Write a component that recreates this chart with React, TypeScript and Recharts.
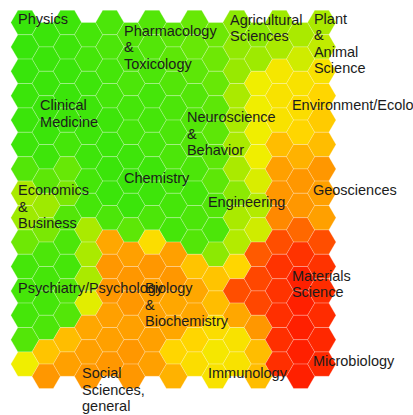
import { ScatterChart, Scatter, XAxis, YAxis } from 'recharts'

// 15 x 15 hexagonal map, one row per array entry, value 0 (green) .. 1 (red)
const cellValues: number[][] = [
  [0.04, 0.05, 0.06, 0.08, 0.10, 0.12, 0.12, 0.15, 0.18, 0.20, 0.25, 0.25, 0.28, 0.30, 0.30],
  [0.04, 0.05, 0.06, 0.08, 0.10, 0.10, 0.12, 0.15, 0.18, 0.20, 0.26, 0.28, 0.30, 0.38, 0.35],
  [0.04, 0.05, 0.05, 0.06, 0.08, 0.10, 0.10, 0.12, 0.15, 0.18, 0.27, 0.45, 0.48, 0.50, 0.50],
  [0.05, 0.05, 0.05, 0.06, 0.08, 0.08, 0.08, 0.10, 0.12, 0.15, 0.30, 0.45, 0.50, 0.52, 0.55],
  [0.05, 0.05, 0.06, 0.06, 0.06, 0.08, 0.08, 0.10, 0.12, 0.15, 0.30, 0.45, 0.50, 0.55, 0.58],
  [0.06, 0.06, 0.08, 0.06, 0.05, 0.06, 0.08, 0.10, 0.12, 0.15, 0.30, 0.45, 0.62, 0.65, 0.62],
  [0.12, 0.15, 0.18, 0.08, 0.05, 0.05, 0.06, 0.08, 0.10, 0.15, 0.30, 0.40, 0.70, 0.72, 0.72],
  [0.30, 0.28, 0.22, 0.08, 0.05, 0.05, 0.06, 0.08, 0.08, 0.12, 0.25, 0.32, 0.72, 0.72, 0.70],
  [0.28, 0.22, 0.12, 0.30, 0.10, 0.15, 0.10, 0.08, 0.10, 0.10, 0.30, 0.38, 0.75, 0.82, 0.70],
  [0.20, 0.10, 0.10, 0.30, 0.68, 0.70, 0.52, 0.70, 0.12, 0.25, 0.32, 0.85, 0.88, 0.95, 0.88],
  [0.08, 0.08, 0.08, 0.30, 0.72, 0.72, 0.72, 0.72, 0.60, 0.60, 0.55, 0.90, 0.95, 1.00, 0.95],
  [0.08, 0.08, 0.12, 0.42, 0.72, 0.72, 0.70, 0.68, 0.68, 0.62, 0.88, 0.90, 0.95, 1.00, 0.97],
  [0.08, 0.10, 0.12, 0.68, 0.70, 0.70, 0.70, 0.68, 0.68, 0.52, 0.68, 0.72, 0.96, 1.00, 0.97],
  [0.12, 0.60, 0.62, 0.70, 0.70, 0.72, 0.70, 0.55, 0.55, 0.48, 0.50, 0.62, 0.96, 1.00, 0.98],
  [0.45, 0.72, 0.70, 0.72, 0.72, 0.72, 0.70, 0.65, 0.52, 0.50, 0.50, 0.62, 0.96, 1.00, 0.98],
]

// field labels, anchored in grid units (column, row)
const labelTexts: string[][] = [
  ['Physics'],
  ['Pharmacology', '&', 'Toxicology'],
  ['Agricultural', 'Sciences'],
  ['Plant', '&', 'Animal', 'Science'],
  ['Clinical', 'Medicine'],
  ['Neuroscience', '&', 'Behavior'],
  ['Environment/Ecology'],
  ['Chemistry'],
  ['Economics', '&', 'Business'],
  ['Engineering'],
  ['Geosciences'],
  ['Psychiatry/Psychology'],
  ['Biology', '&', 'Biochemistry'],
  ['Materials', 'Science'],
  ['Microbiology'],
  ['Immunology'],
  ['Social', 'Sciences,', 'general'],
]
const labelCols = [-0.33, 4.67, 9.67, 13.63, 0.71, 7.64, 12.59, 4.67, -0.33, 8.63, 13.58, -0.33, 5.66, 12.59, 13.58, 8.63, 2.69]
const labelRows = [0.06, 0.55, 0.1, 0.06, 3.59, 4.08, 3.59, 6.58, 7.07, 7.56, 7.07, 11.09, 11.09, 10.59, 14.08, 14.57, 14.57]

const colorStops: [number, number, number, number][] = [
  [0.0, 42, 228, 12],
  [0.2, 110, 232, 5],
  [0.3, 170, 234, 0],
  [0.45, 240, 238, 0],
  [0.55, 255, 214, 0],
  [0.7, 255, 160, 0],
  [0.85, 255, 90, 0],
  [1.0, 255, 32, 0],
]

function valueColor(v: number) {
  for (let i = 1; i < colorStops.length; i++) {
    const a = colorStops[i - 1]
    const b = colorStops[i]
    if (v <= b[0]) {
      const t = (v - a[0]) / (b[0] - a[0])
      const c = [1, 2, 3].map(k => Math.round(a[k] + (b[k] - a[k]) * Math.max(0, t)))
      return `rgb(${c[0]},${c[1]},${c[2]})`
    }
  }
  const l = colorStops[colorStops.length - 1]
  return `rgb(${l[1]},${l[2]},${l[3]})`
}

const cells = cellValues.flatMap((row, r) =>
  row.map((v, c) => ({ x: c, y: r + (c % 2 ? 0.5 : 0), v }))
)

const labels = labelTexts.map((lines, i) => ({ x: labelCols[i], y: labelRows[i], lines }))

const HEX_R = 14.2
const HEX_H = 12.2

function HexCell(props: any) {
  const { cx, cy, payload } = props
  const pts = [
    [cx - HEX_R, cy], [cx - HEX_R / 2, cy - HEX_H], [cx + HEX_R / 2, cy - HEX_H],
    [cx + HEX_R, cy], [cx + HEX_R / 2, cy + HEX_H], [cx - HEX_R / 2, cy + HEX_H],
  ].map(p => p.join(',')).join(' ')
  return (
    <polygon
      points={pts}
      fill={valueColor(payload.v)}
      stroke="#ffffff"
      strokeOpacity={0.25}
      strokeWidth={1}
    />
  )
}

function FieldLabel(props: any) {
  const { cx, cy, payload } = props
  return (
    <text
      x={cx}
      y={cy}
      fontSize={14.5}
      fontFamily="Arial, 'Liberation Sans', sans-serif"
      fill="#1c1c1c"
    >
      {payload.lines.map((l: string, i: number) => (
        <tspan key={i} x={cx} dy={i ? 16.5 : 0}>{l}</tspan>
      ))}
    </text>
  )
}

export default function App() {
  return (
    <div style={{ position: 'absolute', left: 0, top: 0, width: 413, height: 415, background: '#fff' }}>
      <ScatterChart width={413} height={415} margin={{ top: 0, right: 0, bottom: 0, left: 0 }}>
        <XAxis type="number" dataKey="x" domain={[-1.1792, 18.302]} allowDataOverflow hide />
        <YAxis type="number" dataKey="y" domain={[-0.9221, 16.086]} allowDataOverflow reversed hide />
        <Scatter data={cells} shape={HexCell} isAnimationActive={false} />
        <Scatter data={labels} shape={FieldLabel} isAnimationActive={false} />
      </ScatterChart>
    </div>
  )
}
